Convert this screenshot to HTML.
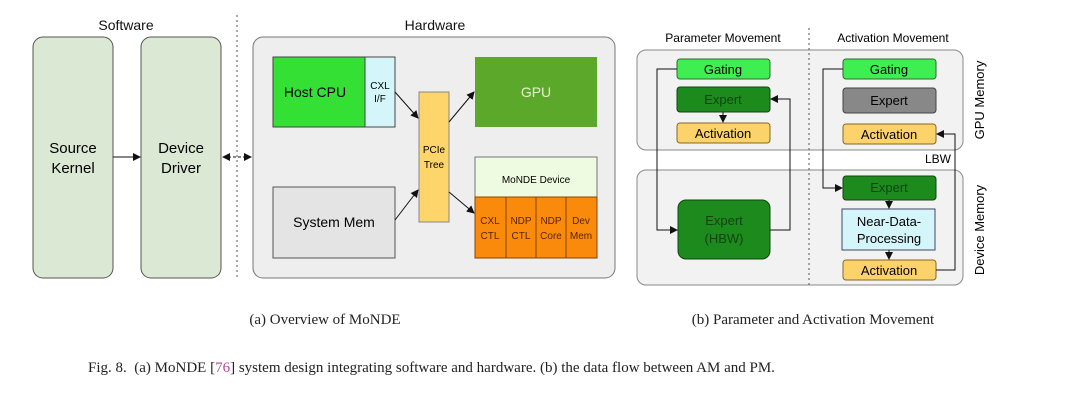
<!DOCTYPE html>
<html><head><style>
body{margin:0;background:#fff;width:1080px;height:405px;overflow:hidden;font-family:"Liberation Sans",sans-serif}
.cap{position:absolute;font-family:"Liberation Serif",serif;color:#222}
</style></head><body>
<svg width="1080" height="405" style="position:absolute;left:0;top:0" font-family="Liberation Sans, sans-serif">
<defs><marker id="a" markerWidth="8" markerHeight="8" refX="7" refY="4" orient="auto" markerUnits="userSpaceOnUse"><path d="M0,0 L8,4 L0,8 z" fill="#111"/></marker>
<marker id="b" markerWidth="8" markerHeight="8" refX="1" refY="4" orient="auto" markerUnits="userSpaceOnUse"><path d="M8,0 L0,4 L8,8 z" fill="#111"/></marker></defs>
<g font-size="14" text-anchor="middle" fill="#111">
<text x="126" y="30">Software</text><text x="435" y="30">Hardware</text>
</g>
<rect x="33" y="37" width="80" height="241" rx="10" fill="#dbe8d4" stroke="#555"/>
<rect x="141" y="37" width="80" height="241" rx="10" fill="#dbe8d4" stroke="#555"/>
<text x="73" y="153" font-size="15" text-anchor="middle">Source</text><text x="73" y="173" font-size="15" text-anchor="middle">Kernel</text>
<text x="181" y="153" font-size="15" text-anchor="middle">Device</text><text x="181" y="173" font-size="15" text-anchor="middle">Driver</text>
<line x1="113" y1="157" x2="140" y2="157" stroke="#111" marker-end="url(#a)"/>
<line x1="237" y1="15" x2="237" y2="280" stroke="#555" stroke-dasharray="2,3"/>
<line x1="223" y1="157" x2="251" y2="157" stroke="#111" stroke-dasharray="3,2" marker-end="url(#a)" marker-start="url(#b)"/>
<rect x="253" y="37" width="362" height="241" rx="10" fill="#eeeeee" stroke="#777"/>
<rect x="273" y="57" width="92" height="70" fill="#33e033" stroke="#444"/>
<rect x="365" y="57" width="30" height="70" fill="#d4f6fb" stroke="#444"/>
<text x="315" y="97" font-size="14" text-anchor="middle">Host CPU</text>
<text x="380" y="89" font-size="10" text-anchor="middle">CXL</text><text x="380" y="102" font-size="10" text-anchor="middle">I/F</text>
<rect x="475" y="57" width="122" height="70" fill="#5ca82a"/>
<text x="536" y="97" font-size="14" text-anchor="middle" fill="#e8f5c8">GPU</text>
<rect x="419" y="92" width="30" height="130" fill="#fdd56a" stroke="#888"/>
<text x="434" y="153" font-size="10" text-anchor="middle">PCIe</text><text x="434" y="168" font-size="10" text-anchor="middle">Tree</text>
<rect x="273" y="187" width="122" height="71" fill="#e4e4e4" stroke="#555"/>
<text x="334" y="227" font-size="14" text-anchor="middle">System Mem</text>
<rect x="475" y="157" width="122" height="40" fill="#eefbe0" stroke="#777"/>
<text x="536" y="183" font-size="10" text-anchor="middle">MoNDE Device</text>
<g fill="#f98a0b" stroke="#884400"><rect x="475" y="197" width="31" height="61"/><rect x="506" y="197" width="30" height="61"/><rect x="536" y="197" width="30" height="61"/><rect x="566" y="197" width="31" height="61"/></g>
<g font-size="10" text-anchor="middle" fill="#5a2200">
<text x="490" y="224">CXL</text><text x="490" y="239">CTL</text><text x="521" y="224">NDP</text><text x="521" y="239">CTL</text>
<text x="551" y="224">NDP</text><text x="551" y="239">Core</text><text x="581" y="224">Dev</text><text x="581" y="239">Mem</text></g>
<g stroke="#111" fill="none">
<line x1="395" y1="92" x2="418" y2="118" marker-end="url(#a)"/>
<line x1="395" y1="220" x2="418" y2="190" marker-end="url(#a)"/>
<line x1="449" y1="122" x2="474" y2="92" marker-end="url(#a)"/>
<line x1="449" y1="192" x2="474" y2="213" marker-end="url(#a)"/>
</g>
<g font-size="12" text-anchor="middle"><text x="723" y="42">Parameter Movement</text><text x="893" y="42">Activation Movement</text></g>
<rect x="637" y="50" width="326" height="100" rx="9" fill="#f2f2f2" stroke="#888"/>
<rect x="637" y="170" width="326" height="115" rx="9" fill="#f2f2f2" stroke="#888"/>
<line x1="809" y1="28" x2="809" y2="285" stroke="#555" stroke-dasharray="2,3"/>
<text transform="translate(984,100) rotate(-90)" font-size="13" text-anchor="middle">GPU Memory</text>
<text transform="translate(984,230) rotate(-90)" font-size="13" text-anchor="middle">Device Memory</text>
<text x="938" y="163" font-size="12" text-anchor="middle">LBW</text>
<g font-size="13" text-anchor="middle">
<rect x="677" y="59" width="93" height="20" rx="3" fill="#3fee50" stroke="#336633"/><text x="723" y="74">Gating</text>
<rect x="677" y="87" width="93" height="25" rx="3" fill="#1c8a1c" stroke="#114411"/><text x="723" y="104" fill="#114411">Expert</text>
<rect x="677" y="123" width="93" height="20" rx="3" fill="#fcd36a" stroke="#886622"/><text x="723" y="138">Activation</text>
<rect x="678" y="200" width="92" height="59" rx="8" fill="#1c8a1c" stroke="#114411"/><text x="724" y="225" fill="#114411">Expert</text><text x="724" y="243" fill="#114411">(HBW)</text>
<rect x="843" y="59" width="93" height="20" rx="3" fill="#3fee50" stroke="#336633"/><text x="889" y="74">Gating</text>
<rect x="843" y="88" width="93" height="25" rx="3" fill="#888" stroke="#444"/><text x="889" y="105">Expert</text>
<rect x="843" y="124" width="93" height="20" rx="3" fill="#fcd36a" stroke="#886622"/><text x="889" y="139">Activation</text>
<rect x="843" y="176" width="93" height="24" rx="3" fill="#1c8a1c" stroke="#114411"/><text x="889" y="192" fill="#114411">Expert</text>
<rect x="842" y="209" width="93" height="41" fill="#d4f6fb" stroke="#446"/><text x="889" y="226">Near-Data-</text><text x="889" y="243">Processing</text>
<rect x="843" y="260" width="93" height="20" rx="3" fill="#fcd36a" stroke="#886622"/><text x="889" y="275">Activation</text>
</g>
<g stroke="#111" fill="none">
<polyline points="677,69 657,69 657,230 677,230" marker-end="url(#a)"/>
<polyline points="770,230 790,230 790,99 771,99" marker-end="url(#a)"/>
<line x1="723" y1="112" x2="723" y2="122" marker-end="url(#a)"/>
<polyline points="843,69 823,69 823,188 842,188" marker-end="url(#a)"/>
<polyline points="936,270 955,270 955,134 937,134" marker-end="url(#a)"/>
<line x1="889" y1="200" x2="889" y2="208" marker-end="url(#a)"/>
<line x1="889" y1="250" x2="889" y2="259" marker-end="url(#a)"/>
</g>
</svg>
<div class="cap" style="left:0;width:650px;top:312px;text-align:center;font-size:15px">(a) Overview of MoNDE</div>
<div class="cap" style="left:630px;width:366px;top:312px;text-align:center;font-size:15px">(b) Parameter and Activation Movement</div>
<div class="cap" style="left:88px;top:360px;font-size:15px">Fig. 8.&nbsp; (a) MoNDE [<span style="color:#b04a9a">76</span>] system design integrating software and hardware. (b) the data flow between AM and PM.</div>
</body></html>
